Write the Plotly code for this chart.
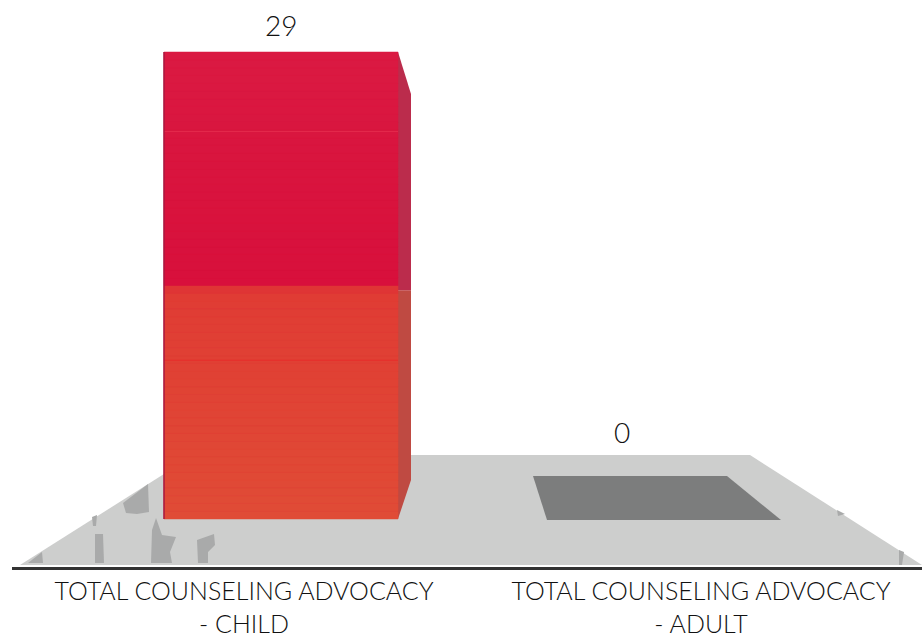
import plotly.graph_objects as go

# Data
categories = ["TOTAL COUNSELING ADVOCACY<br>- CHILD", "TOTAL COUNSELING ADVOCACY<br>- ADULT"]
values = [29, 0]
value_labels = ["29", "0"]

# Gradient stops down the bar (fraction of the value, colour)
band_stops = [(1.0, (218, 26, 66)), (0.75, (217, 20, 62)), (0.5, (216, 16, 60)),
              (0.49, (224, 60, 52)), (0.35, (224, 64, 52)), (0.0, (224, 76, 54))]

W, H = 922, 639
LEFT, BOTTOM = 12, 72
PAGE_L, PAGE_R, PAGE_T, PAGE_B = 12, 922, 0, 567
PX_PER_CAT = 457.0
CAT0_PX = 244.0
PX_PER_UNIT = 467 / 29
ZERO_PX = 519.0


def X(px):
    return (px - CAT0_PX) / PX_PER_CAT


def Yoff(px):
    """Pixel offset above the baseline, in value units."""
    return px / PX_PER_UNIT


xr = [X(PAGE_L), X(PAGE_R)]
yr = [Yoff(ZERO_PX - PAGE_B), Yoff(ZERO_PX - PAGE_T)]


def poly(pts):
    return "M" + " L".join(f"{x},{y}" for x, y in pts) + " Z"


bar_left = X(164)
bar_right = X(398)
bar_w = bar_right - bar_left

fig = go.Figure()
fig.add_trace(go.Bar(
    x=[0, 1], y=values, width=bar_w, offset=bar_left,
    marker=dict(color="#d8203c", line=dict(width=0)),
    hoverinfo="x+y", showlegend=False,
))

shapes = []
# Floor
floor = [(X(20), Yoff(-46)), (X(194), Yoff(64)), (X(750), Yoff(64)), (X(922), Yoff(-46))]
shapes.append(dict(type="path", path=poly(floor), fillcolor="#cdcecd", line_width=0, layer="below"))
# Floor wear marks
marks = [
    [(123, 503), (148, 484), (149, 512), (137, 514), (126, 513)],
    [(95, 563), (95, 534), (103, 534), (104, 563)],
    [(151, 563), (152, 530), (156, 518), (162, 535), (176, 537), (170, 552), (172, 563)],
    [(198, 563), (197, 540), (214, 534), (215, 545), (208, 552), (208, 563)],
    [(28, 563), (42, 552), (43, 563)],
    [(92, 517), (97, 515), (96, 526), (93, 526)],
    [(837, 510), (845, 514), (838, 516)],
    [(899, 550), (904, 552), (902, 565), (899, 565)],
]
for m in marks:
    shapes.append(dict(type="path", path=poly([(X(a), Yoff(519 - b)) for a, b in m]),
                       fillcolor="#a9aaaa", line_width=0, layer="below"))
# Shadow of the zero bar, tied to the second value
adult = [(X(533), values[1] + Yoff(43)), (X(727), values[1] + Yoff(43)),
         (X(781), values[1] - Yoff(1)), (X(547), values[1] - Yoff(1))]
shapes.append(dict(type="path", path=poly(adult), fillcolor="#7c7d7d", line_width=0, layer="below"))

# Side face of the first bar: orange lower part, crimson upper part
v = values[0]
split = 0.49 * v
side_low = [(bar_right, 0), (X(411), Yoff(39)), (X(411), split), (bar_right, split)]
side_up = [(bar_right, split), (X(411), split), (X(411), v - Yoff(42)), (bar_right, v)]
shapes.append(dict(type="path", path=poly(side_low), fillcolor="#bf4a42", line_width=0, layer="above"))
shapes.append(dict(type="path", path=poly(side_up), fillcolor="#bb2c4c", line_width=0, layer="above"))

# Gradient over the front face
N = 60
for i in range(N):
    f0, f1 = i / N, (i + 1) / N
    fm = (f0 + f1) / 2
    for (a, ca), (b, cb) in zip(band_stops[1:], band_stops[:-1]):
        if a <= fm <= b:
            t = (fm - a) / (b - a)
            c = tuple(round(ca[k] + t * (cb[k] - ca[k])) for k in range(3))
            break
    shapes.append(dict(type="rect", x0=bar_left, x1=bar_right, y0=f0 * v, y1=f1 * v,
                       fillcolor=f"rgb{c}", line=dict(color=f"rgb{c}", width=0.5), layer="above"))
# Seams on the bar and its dark left edge
for frac, col in ((0.83, "#e42c4e"), (0.34, "#e62c2a")):
    shapes.append(dict(type="line", x0=bar_left, x1=bar_right, y0=frac * v, y1=frac * v,
                       line=dict(color=col, width=1), layer="above"))
shapes.append(dict(type="line", x0=bar_left, x1=bar_left, y0=0, y1=v,
                   line=dict(color="#a81840", width=1.5), layer="above"))

annotations = [
    dict(x=X(281), y=values[0], yshift=27, text=value_labels[0], showarrow=False,
         font=dict(family="Lato", size=28, color="#111111", weight=300)),
    dict(x=X(622), y=values[1], yshift=87, text=value_labels[1], showarrow=False,
         font=dict(family="Lato", size=28, color="#111111", weight=300)),
]

fig.update_layout(
    width=W, height=H, margin=dict(l=LEFT, r=0, t=0, b=BOTTOM, pad=0),
    paper_bgcolor="white", plot_bgcolor="white", showlegend=False,
    shapes=shapes, annotations=annotations,
    xaxis=dict(range=xr, tickmode="array", tickvals=[0, 1], ticktext=categories, automargin=False,
               showgrid=False, zeroline=False, showline=True, linecolor="#333333", linewidth=3,
               ticks="", tickangle=0, ticklabelstandoff=0,
               tickfont=dict(family="Lato", size=25, color="#111111", weight=300)),
    yaxis=dict(range=yr, visible=False, showgrid=False, zeroline=False, automargin=False),
)
fig.write_html("out.html", config=dict(displayModeBar=False),
               post_script="document.body.style.margin='0';document.documentElement.style.overflow='hidden';")
